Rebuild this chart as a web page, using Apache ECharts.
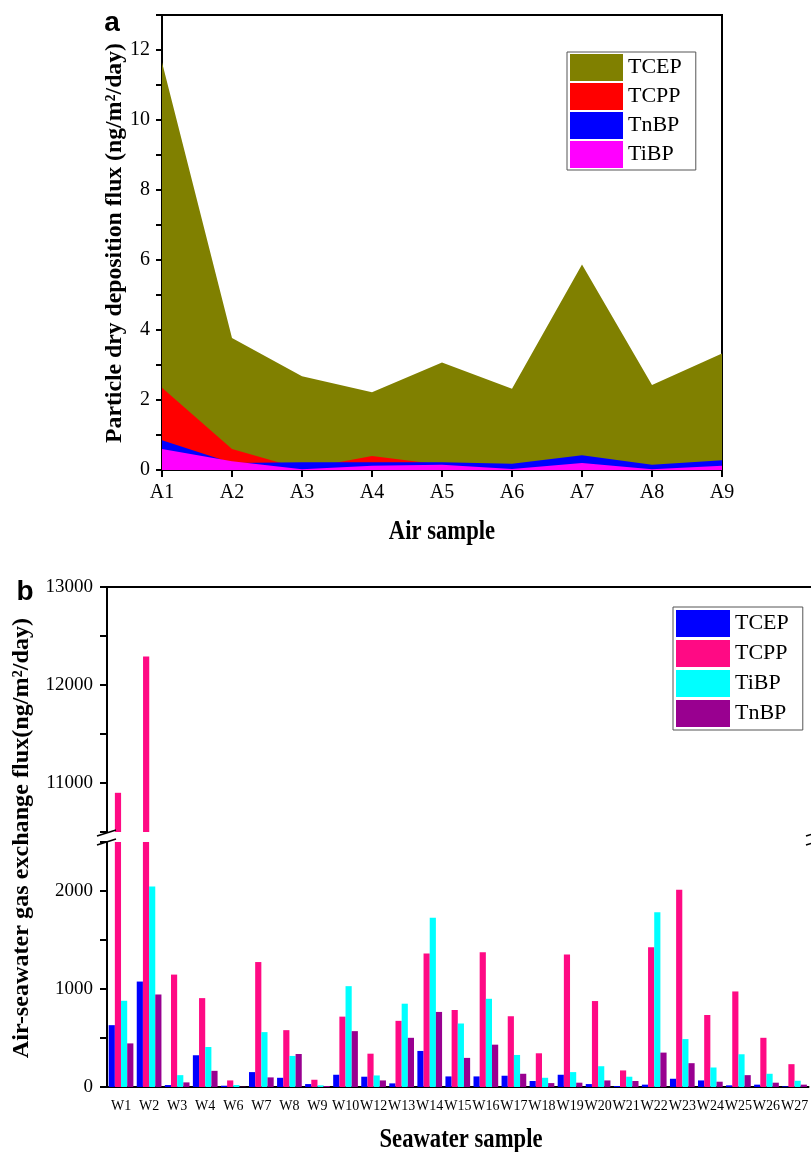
<!DOCTYPE html>
<html>
<head>
<meta charset="utf-8">
<script type="text/javascript" src="https://cdn.jsdelivr.net/npm/echarts@6/dist/echarts.min.js"></script>
<style>
  html, body { margin: 0; padding: 0; background: #fff; }
  #chart-a { width: 811px; height: 560px; }
  #chart-b { width: 811px; height: 592px; }
</style>
</head>
<body>
<div id="chart-a"></div>
<div id="chart-b"></div>

<script type="text/javascript">
// ---- panel a: particle dry deposition (overlaid areas) ----
var airSamples = ['A1', 'A2', 'A3', 'A4', 'A5', 'A6', 'A7', 'A8', 'A9'];
var dryTCEP = [11.65, 3.77, 2.68, 2.22, 3.07, 2.32, 5.87, 2.43, 3.33];
var dryTCPP = [2.35, 0.6, 0.03, 0.4, 0.15, 0.12, 0.3, 0.08, 0.2];
var dryTnBP = [0.85, 0.2, 0.22, 0.22, 0.22, 0.18, 0.42, 0.15, 0.28];
var dryTiBP = [0.6, 0.25, 0.02, 0.12, 0.15, 0.03, 0.2, 0.02, 0.12];

// ---- panel b: air-seawater gas exchange (broken axis bars) ----
var seaSamples = ['W1', 'W2', 'W3', 'W4', 'W6', 'W7', 'W8', 'W9', 'W10', 'W12', 'W13', 'W14', 'W15',
  'W16', 'W17', 'W18', 'W19', 'W20', 'W21', 'W22', 'W23', 'W24', 'W25', 'W26', 'W27'];
var gasTCEP = [631, 1076, 20, 324, 13, 152, 94, 30, 125, 105, 37, 368, 108, 108, 115, 61, 125, 30, 10, 24, 84, 67, 17, 24, 7];
var gasTCPP = [10900, 12290, 1147, 907, 67, 1275, 580, 74, 718, 340, 675, 1363, 786, 1376, 722, 344, 1352, 877, 169, 1427, 2013, 735, 975, 502, 233];
var gasTiBP = [880, 2047, 121, 408, 20, 560, 317, 17, 1029, 118, 850, 1727, 648, 900, 327, 94, 152, 212, 105, 1784, 489, 199, 334, 135, 64];
var gasTnBP = [445, 944, 47, 165, 3, 98, 337, 10, 570, 67, 502, 766, 297, 432, 135, 40, 44, 67, 61, 351, 243, 54, 121, 44, 24];

var serif = '"Liberation Serif", "Times New Roman", serif';
var black = '#000';

function evenOnly(step) {
  return function (v) { return v % step === 0 ? String(v) : ''; };
}

// text with a stretch: the original figure's lettering is tall and narrow
function txt(text, x, y, font, rot, sx, sy) {
  return {
    type: 'text', x: x, y: y, rotation: rot || 0, scaleX: sx || 1, scaleY: sy || 1, z: 100,
    style: { text: text, font: font, fill: black, align: 'center', verticalAlign: 'middle' }
  };
}

// ================= chart a =================
var chartA = echarts.init(document.getElementById('chart-a'));

function areaSeries(name, color, data) {
  return {
    name: name, type: 'line', data: data, color: color,
    showSymbol: false, symbol: 'none', silent: true,
    lineStyle: { width: 0 },
    areaStyle: { color: color, opacity: 1 }
  };
}

var optionA = {
  animation: false,
  grid: { left: 162, top: 15, width: 560, height: 455, show: true, borderColor: black, borderWidth: 2, backgroundColor: 'transparent' },
  legend: {
    orient: 'vertical', left: 567, top: 52,
    icon: 'rect', itemWidth: 53, itemHeight: 27, itemGap: 2,
    borderColor: '#555', borderWidth: 1, padding: [2, 14, 2, 3],
    textStyle: { fontFamily: serif, fontSize: 22, color: black },
    data: ['TCEP', 'TCPP', 'TnBP', 'TiBP']
  },
  xAxis: [{
    type: 'category', data: airSamples, boundaryGap: false,
    axisLine: { lineStyle: { color: black, width: 2 } },
    axisTick: { length: 7, lineStyle: { color: black, width: 2 } },
    axisLabel: { fontFamily: serif, fontSize: 20, color: black, margin: 13 }
  }, {
    type: 'category', data: airSamples.slice(1).map(function () { return ''; }), boundaryGap: true,
    position: 'bottom',
    axisLine: { show: false },
    axisTick: { alignWithLabel: true, length: 4, lineStyle: { color: black, width: 2 } },
    axisLabel: { show: false }
  }],
  yAxis: {
    type: 'value', min: 0, max: 13, interval: 1,
    axisLine: { show: true, lineStyle: { color: black, width: 2 } },
    axisTick: { show: true, length: 6, lineStyle: { color: black, width: 2 } },
    axisLabel: { fontFamily: serif, fontSize: 20, color: black, margin: 12, formatter: evenOnly(2) },
    splitLine: { show: false }
  },
  series: [
    areaSeries('TCEP', '#808000', dryTCEP),
    areaSeries('TCPP', '#ff0000', dryTCPP),
    areaSeries('TnBP', '#0000ff', dryTnBP),
    areaSeries('TiBP', '#ff00ff', dryTiBP)
  ],
  graphic: [
    txt('a', 112, 23, 'bold 28px "Liberation Sans", Arial, sans-serif'),
    txt('Particle dry deposition flux (ng/m\u00b2/day)', 115, 243, 'bold 21px ' + serif, Math.PI / 2, 1.13, 1.1),
    txt('Air sample', 442, 532, 'bold 22px ' + serif, 0, 1.03, 1.2)
  ]
};
chartA.setOption(optionA);

// ================= chart b =================
var chartB = echarts.init(document.getElementById('chart-b'));

var barNames = ['TCEP', 'TCPP', 'TiBP', 'TnBP'];
var barColors = ['#0000ff', '#ff0a84', '#00ffff', '#990090'];
var barData = [gasTCEP, gasTCPP, gasTiBP, gasTnBP];

var barSeries = [];
[0, 1].forEach(function (g) {
  barNames.forEach(function (name, i) {
    barSeries.push({
      name: name, type: 'bar', data: barData[i],
      xAxisIndex: g, yAxisIndex: g, color: barColors[i],
      barCategoryGap: '12%', barGap: '0%', clip: true, silent: true,
      itemStyle: { color: barColors[i] }
    });
  });
});

function yAx(grid, min, max) {
  return {
    type: 'value', gridIndex: grid, min: min, max: max, interval: 500,
    axisLine: { show: true, lineStyle: { color: black, width: 2 } },
    axisTick: { show: true, length: 7, lineStyle: { color: black, width: 2 } },
    axisLabel: { fontFamily: serif, fontSize: 19, color: black, margin: 14, formatter: evenOnly(1000) },
    splitLine: { show: false }
  };
}

var optionB = {
  animation: false,
  grid: [
    { left: 107, top: 27, width: 709, height: 245 },
    { left: 107, top: 282, width: 709, height: 245 }
  ],
  legend: {
    orient: 'vertical', left: 673, top: 47,
    icon: 'rect', itemWidth: 54, itemHeight: 27, itemGap: 3,
    borderColor: '#555', borderWidth: 1, padding: [3, 14, 3, 3],
    textStyle: { fontFamily: serif, fontSize: 22, color: black },
    data: barNames
  },
  xAxis: [{
    type: 'category', gridIndex: 0, data: seaSamples, position: 'top',
    axisLine: { lineStyle: { color: black, width: 2 } },
    axisTick: { show: false }, axisLabel: { show: false }
  }, {
    type: 'category', gridIndex: 1, data: seaSamples, position: 'bottom',
    axisLine: { lineStyle: { color: black, width: 2 } },
    axisTick: { length: 4, lineStyle: { color: black, width: 2 } },
    axisLabel: { interval: 0, fontFamily: serif, fontSize: 14, color: black, margin: 12 }
  }, {
    type: 'category', gridIndex: 1, data: seaSamples, position: 'bottom',
    axisLine: { show: false },
    axisTick: { alignWithLabel: true, interval: 0, length: 7, lineStyle: { color: black, width: 2 } },
    axisLabel: { show: false }
  }],
  yAxis: [yAx(0, 10500, 13000), yAx(1, 0, 2500)],
  series: barSeries,
  graphic: [
    txt('b', 25, 32, 'bold 28px "Liberation Sans", Arial, sans-serif'),
    txt('Air-seawater gas exchange flux(ng/m\u00b2/day)', 22, 278, 'bold 21px ' + serif, Math.PI / 2, 1.15, 1.1),
    txt('Seawater sample', 461, 580, 'bold 22px ' + serif, 0, 1.03, 1.2),
    // axis break marks
    { type: 'line', shape: { x1: 97, y1: 276, x2: 116, y2: 270 }, style: { stroke: black, lineWidth: 1.5 }, z: 100 },
    { type: 'line', shape: { x1: 97, y1: 285, x2: 116, y2: 279 }, style: { stroke: black, lineWidth: 1.5 }, z: 100 },
    { type: 'line', shape: { x1: 806, y1: 276, x2: 825, y2: 270 }, style: { stroke: black, lineWidth: 1.5 }, z: 100 },
    { type: 'line', shape: { x1: 806, y1: 285, x2: 825, y2: 279 }, style: { stroke: black, lineWidth: 1.5 }, z: 100 }
  ]
};
chartB.setOption(optionB);

window.addEventListener('resize', function () {
  chartA.resize();
  chartB.resize();
});
</script>
</body>
</html>
